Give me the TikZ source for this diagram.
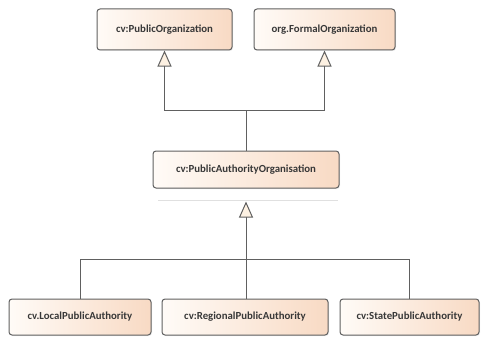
\documentclass[tikz,border=0pt]{standalone}
\usepackage{fontspec}
\setmainfont{Carlito}
\usetikzlibrary{arrows.meta,shadows}
\definecolor{boxL}{HTML}{FFFBF7}
\definecolor{boxR}{HTML}{F8DAC4}
\definecolor{tri}{HTML}{FDF1E2}
\definecolor{edge}{HTML}{606060}
\tikzset{
  cls/.style={draw=edge, line width=1pt, rounded corners=3pt, left color=boxL, right color=boxR,
    minimum height=#1, inner sep=0pt, font=\fontsize{10.8}{12}\selectfont\bfseries\color{black!78},
    drop shadow={shadow xshift=1pt, shadow yshift=-1pt, fill=black!15}},
  gen/.style={draw=edge, line width=1pt, -{Triangle[length=16pt,width=14pt,open,fill=tri,line width=1pt]}},
  lnk/.style={draw=edge, line width=1pt},
}
\begin{document}
\begin{tikzpicture}[x=1pt,y=1pt]
\useasboundingbox (0,0) rectangle (481,-337);
\node[cls=41pt, minimum width=135pt] (po) at (164.5,-29.5) {cv:PublicOrganization};
\node[cls=41pt, minimum width=141pt] (fo) at (324.5,-29.5) {org.FormalOrganization};
\node[cls=37pt, minimum width=186pt] (pao) at (246,-169.5) {cv:PublicAuthorityOrganisation};
\node[cls=36pt, minimum width=142pt] (la) at (80,-317) {cv.LocalPublicAuthority};
\node[cls=36pt, minimum width=166pt] (ra) at (245,-317) {cv:RegionalPublicAuthority};
\node[cls=36pt, minimum width=139pt] (sa) at (409.5,-317) {cv:StatePublicAuthority};
% separator and generalisation target
\coordinate (sepL) at (158,-200);
\coordinate (sepR) at (338,-200);
\draw[black!12, line width=0.8pt] (sepL) -- (sepR);
\coordinate (gtip) at (246,-201.5);
\coordinate (jt) at (246,-110);
\coordinate (jb) at (246,-259);
% upper generalisations
\draw[lnk] (pao.north) -- (jt);
\draw[gen] (jt) -| (po.south);
\draw[gen] (jt) -| (fo.south);
% lower generalisations
\draw[lnk] (la.north) |- (jb);
\draw[lnk] (sa.north) |- (jb);
\draw[lnk] (ra.north -| jb) -- (jb);
\draw[gen] (jb) -- (gtip);
\end{tikzpicture}
\end{document}
